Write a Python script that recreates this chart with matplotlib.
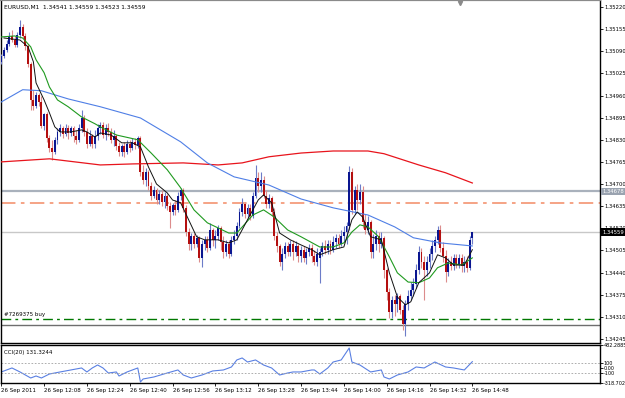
import matplotlib
matplotlib.use('Agg')
import matplotlib.pyplot as plt
import matplotlib.transforms as mtransforms

# EURUSD M1 bars, 26 Sep 2011 11:52 -> 14:48 (one bar per minute)
opens = [
    1.35059, 1.35076, 1.35094, 1.35112, 1.35135, 1.35123, 1.35109, 1.35138, 1.35162, 1.35135,
    1.35106, 1.35053, 1.34947, 1.34930, 1.34962, 1.34941, 1.34871, 1.34906, 1.34836, 1.34806,
    1.34794, 1.34830, 1.34853, 1.34865, 1.34847, 1.34865, 1.34850, 1.34865, 1.34841, 1.34830,
    1.34865, 1.34894, 1.34853, 1.34818, 1.34841, 1.34818, 1.34841, 1.34865, 1.34874, 1.34844,
    1.34865, 1.34853, 1.34830, 1.34841, 1.34812, 1.34794, 1.34812, 1.34794, 1.34818, 1.34806,
    1.34824, 1.34815, 1.34836, 1.34736, 1.34712, 1.34736, 1.34695, 1.34665, 1.34683, 1.34653,
    1.34671, 1.34648, 1.34665, 1.34636, 1.34618, 1.34639, 1.34624, 1.34665, 1.34683, 1.34630,
    1.34559, 1.34524, 1.34548, 1.34524, 1.34542, 1.34483, 1.34524, 1.34536, 1.34512, 1.34565,
    1.34536, 1.34548, 1.34571, 1.34530, 1.34501, 1.34524, 1.34495, 1.34536, 1.34548, 1.34577,
    1.34618, 1.34642, 1.34612, 1.34630, 1.34606, 1.34665, 1.34718, 1.34695, 1.34712, 1.34665,
    1.34642, 1.34659, 1.34618, 1.34548, 1.34518, 1.34471, 1.34495, 1.34518, 1.34501, 1.34524,
    1.34501, 1.34518, 1.34489, 1.34507, 1.34483, 1.34501, 1.34512, 1.34489, 1.34471, 1.34483,
    1.34501, 1.34518, 1.34507, 1.34524, 1.34507, 1.34530, 1.34542, 1.34524, 1.34548, 1.34559,
    1.34577, 1.34736, 1.34624, 1.34683, 1.34653, 1.34677, 1.34589, 1.34565, 1.34589, 1.34501,
    1.34524, 1.34548, 1.34524, 1.34542, 1.34448, 1.34383, 1.34324, 1.34360, 1.34348, 1.34371,
    1.34330, 1.34289, 1.34348, 1.34371, 1.34389, 1.34407, 1.34448, 1.34501, 1.34471, 1.34448,
    1.34471, 1.34495, 1.34518, 1.34536, 1.34565, 1.34512, 1.34489, 1.34442, 1.34471, 1.34459,
    1.34483, 1.34465, 1.34483, 1.34459, 1.34471, 1.34454, 1.34541]
highs = [
    1.35082, 1.35103, 1.35123, 1.35147, 1.35153, 1.35135, 1.35147, 1.35182, 1.35170, 1.35144,
    1.35112, 1.35059, 1.34977, 1.34971, 1.34968, 1.34959, 1.34909, 1.34912, 1.34844, 1.34830,
    1.34838, 1.34865, 1.34877, 1.34871, 1.34877, 1.34874, 1.34871, 1.34871, 1.34859, 1.34877,
    1.34918, 1.34903, 1.34865, 1.34859, 1.34847, 1.34859, 1.34877, 1.34883, 1.34883, 1.34877,
    1.34880, 1.34865, 1.34859, 1.34847, 1.34824, 1.34818, 1.34824, 1.34830, 1.34830, 1.34836,
    1.34836, 1.34841, 1.34841, 1.34756, 1.34747, 1.34742, 1.34706, 1.34695, 1.34689, 1.34683,
    1.34683, 1.34677, 1.34671, 1.34648, 1.34645, 1.34653, 1.34677, 1.34689, 1.34689, 1.34639,
    1.34571, 1.34556, 1.34556, 1.34551, 1.34548, 1.34536, 1.34548, 1.34548, 1.34586, 1.34571,
    1.34565, 1.34580, 1.34577, 1.34548, 1.34536, 1.34536, 1.34548, 1.34565, 1.34589, 1.34630,
    1.34659, 1.34648, 1.34642, 1.34642, 1.34677, 1.34756, 1.34736, 1.34736, 1.34724, 1.34683,
    1.34671, 1.34665, 1.34630, 1.34559, 1.34524, 1.34512, 1.34530, 1.34530, 1.34536, 1.34536,
    1.34533, 1.34524, 1.34518, 1.34518, 1.34512, 1.34524, 1.34524, 1.34507, 1.34512, 1.34512,
    1.34530, 1.34536, 1.34536, 1.34536, 1.34548, 1.34554, 1.34554, 1.34565, 1.34577, 1.34589,
    1.34753, 1.34747, 1.34695, 1.34700, 1.34700, 1.34695, 1.34612, 1.34606, 1.34595, 1.34554,
    1.34565, 1.34559, 1.34559, 1.34548, 1.34454, 1.34395, 1.34371, 1.34374, 1.34380, 1.34377,
    1.34345, 1.34360, 1.34389, 1.34412, 1.34424, 1.34465, 1.34518, 1.34512, 1.34489, 1.34489,
    1.34512, 1.34536, 1.34548, 1.34577, 1.34580, 1.34530, 1.34507, 1.34483, 1.34489, 1.34495,
    1.34495, 1.34495, 1.34495, 1.34489, 1.34489, 1.34548, 1.34559]
lows = [
    1.35053, 1.35071, 1.35088, 1.35106, 1.35118, 1.35103, 1.35103, 1.35129, 1.35129, 1.35094,
    1.35044, 1.34918, 1.34918, 1.34924, 1.34930, 1.34865, 1.34859, 1.34824, 1.34794, 1.34771,
    1.34789, 1.34818, 1.34841, 1.34836, 1.34841, 1.34833, 1.34841, 1.34824, 1.34818, 1.34824,
    1.34853, 1.34841, 1.34806, 1.34812, 1.34806, 1.34806, 1.34830, 1.34847, 1.34836, 1.34830,
    1.34841, 1.34821, 1.34812, 1.34800, 1.34783, 1.34783, 1.34780, 1.34789, 1.34794, 1.34800,
    1.34803, 1.34806, 1.34724, 1.34700, 1.34695, 1.34683, 1.34653, 1.34659, 1.34642, 1.34642,
    1.34636, 1.34630, 1.34624, 1.34571, 1.34609, 1.34609, 1.34618, 1.34653, 1.34618, 1.34548,
    1.34507, 1.34507, 1.34512, 1.34515, 1.34471, 1.34457, 1.34507, 1.34501, 1.34507, 1.34518,
    1.34512, 1.34536, 1.34507, 1.34483, 1.34489, 1.34483, 1.34489, 1.34524, 1.34536, 1.34571,
    1.34606, 1.34601, 1.34601, 1.34595, 1.34601, 1.34659, 1.34677, 1.34677, 1.34659, 1.34630,
    1.34630, 1.34606, 1.34536, 1.34501, 1.34459, 1.34448, 1.34483, 1.34489, 1.34489, 1.34477,
    1.34489, 1.34471, 1.34471, 1.34471, 1.34465, 1.34489, 1.34471, 1.34462, 1.34459, 1.34410,
    1.34489, 1.34495, 1.34495, 1.34495, 1.34501, 1.34512, 1.34512, 1.34518, 1.34530, 1.34524,
    1.34565, 1.34612, 1.34612, 1.34624, 1.34642, 1.34571, 1.34554, 1.34554, 1.34483, 1.34483,
    1.34507, 1.34501, 1.34512, 1.34424, 1.34360, 1.34307, 1.34307, 1.34313, 1.34324, 1.34318,
    1.34271, 1.34254, 1.34330, 1.34360, 1.34371, 1.34395, 1.34436, 1.34454, 1.34360, 1.34430,
    1.34454, 1.34477, 1.34501, 1.34524, 1.34501, 1.34471, 1.34412, 1.34430, 1.34448, 1.34448,
    1.34454, 1.34454, 1.34442, 1.34442, 1.34442, 1.34448, 1.34523]
closes = [
    1.35076, 1.35094, 1.35112, 1.35135, 1.35123, 1.35109, 1.35138, 1.35162, 1.35135, 1.35106,
    1.35053, 1.34947, 1.34930, 1.34962, 1.34941, 1.34871, 1.34906, 1.34836, 1.34806, 1.34794,
    1.34830, 1.34853, 1.34865, 1.34847, 1.34865, 1.34850, 1.34865, 1.34841, 1.34830, 1.34865,
    1.34894, 1.34853, 1.34818, 1.34841, 1.34818, 1.34841, 1.34865, 1.34874, 1.34844, 1.34865,
    1.34853, 1.34830, 1.34841, 1.34812, 1.34794, 1.34812, 1.34794, 1.34818, 1.34806, 1.34824,
    1.34815, 1.34836, 1.34736, 1.34712, 1.34736, 1.34695, 1.34665, 1.34683, 1.34653, 1.34671,
    1.34648, 1.34665, 1.34636, 1.34618, 1.34639, 1.34624, 1.34665, 1.34683, 1.34630, 1.34559,
    1.34524, 1.34548, 1.34524, 1.34542, 1.34483, 1.34524, 1.34536, 1.34512, 1.34565, 1.34536,
    1.34548, 1.34571, 1.34530, 1.34501, 1.34524, 1.34495, 1.34536, 1.34548, 1.34577, 1.34618,
    1.34642, 1.34612, 1.34630, 1.34606, 1.34665, 1.34718, 1.34695, 1.34712, 1.34665, 1.34642,
    1.34659, 1.34618, 1.34548, 1.34518, 1.34471, 1.34495, 1.34518, 1.34501, 1.34524, 1.34501,
    1.34518, 1.34489, 1.34507, 1.34483, 1.34501, 1.34512, 1.34489, 1.34471, 1.34495, 1.34501,
    1.34518, 1.34507, 1.34524, 1.34507, 1.34530, 1.34542, 1.34524, 1.34548, 1.34559, 1.34577,
    1.34736, 1.34624, 1.34683, 1.34653, 1.34677, 1.34589, 1.34565, 1.34589, 1.34501, 1.34524,
    1.34548, 1.34524, 1.34542, 1.34448, 1.34383, 1.34324, 1.34360, 1.34348, 1.34371, 1.34330,
    1.34289, 1.34348, 1.34371, 1.34389, 1.34407, 1.34448, 1.34501, 1.34471, 1.34448, 1.34471,
    1.34495, 1.34518, 1.34536, 1.34565, 1.34512, 1.34489, 1.34442, 1.34471, 1.34459, 1.34483,
    1.34465, 1.34483, 1.34459, 1.34471, 1.34454, 1.34536, 1.34559]

# moving averages, sampled along the bars (bar index, price)
ma_fast_bars = [1, 7, 10, 12, 13, 16, 18, 20, 22, 26, 30, 32, 35, 37, 41, 45, 49, 52, 55, 58,
                62, 64, 67, 70, 73, 76, 81, 85, 88, 92, 96, 98, 101, 104, 108, 112, 116, 119,
                124, 128, 131, 133, 135, 138, 142, 145, 148, 151, 153, 156, 160, 163, 166,
                169, 173, 176]
ma_fast = [1.35129, 1.35123, 1.35103, 1.35059, 1.34997, 1.34947, 1.34909, 1.34868, 1.34853,
           1.34853, 1.34859, 1.34853, 1.34838, 1.34850, 1.34844, 1.34821, 1.34821, 1.34809,
           1.34750, 1.34700, 1.34674, 1.34653, 1.34645, 1.34595, 1.34545, 1.34536, 1.34536,
           1.34527, 1.34536, 1.34595, 1.34653, 1.34668, 1.34645, 1.34556, 1.34536, 1.34521,
           1.34507, 1.34492, 1.34507, 1.34515, 1.34595, 1.34618, 1.34603, 1.34545, 1.34536,
           1.34439, 1.34368, 1.34345, 1.34354, 1.34410, 1.34439, 1.34492, 1.34483, 1.34462,
           1.34462, 1.34507]
ma_green_bars = [0, 5, 8, 11, 13, 16, 18, 21, 25, 30, 35, 37, 43, 51, 56, 62, 67, 72, 77, 85,
                 88, 94, 98, 102, 107, 112, 119, 124, 128, 131, 134, 137, 141, 145, 148, 152,
                 156, 160, 163, 167, 172, 176]
ma_green = [1.35132, 1.35135, 1.35129, 1.35103, 1.35065, 1.35027, 1.34985, 1.34947, 1.34927,
            1.34897, 1.34877, 1.34868, 1.34844, 1.34830, 1.34791, 1.34742, 1.34689, 1.34624,
            1.34586, 1.34556, 1.34556, 1.34609, 1.34624, 1.34603, 1.34565, 1.34545, 1.34515,
            1.34515, 1.34527, 1.34559, 1.34580, 1.34574, 1.34545, 1.34486, 1.34439, 1.34412,
            1.34410, 1.34424, 1.34454, 1.34468, 1.34462, 1.34483]
ma_blue_bars = [0, 8, 15, 25, 37, 52, 67, 77, 87, 100, 112, 124, 137, 147, 154, 164, 176]
ma_blue = [1.34941, 1.34977, 1.34974, 1.34950, 1.34927, 1.34894, 1.34824, 1.34762, 1.34721,
           1.34697, 1.34656, 1.34630, 1.34609, 1.34574, 1.34542, 1.34527, 1.34518]
ma_red_bars = [0, 18, 37, 49, 68, 81, 90, 100, 112, 124, 137, 143, 156, 166, 176]
ma_red = [1.34765, 1.34774, 1.34756, 1.34759, 1.34762, 1.34756, 1.34762, 1.34780, 1.34791,
          1.34797, 1.34797, 1.34789, 1.34756, 1.34733, 1.34703]

# CCI(20), sampled (bar index, value)
cci_bars = [0, 4, 7, 11, 13, 15, 18, 22, 26, 30, 32, 34, 36, 38, 40, 43, 44, 47, 51, 52, 53,
            57, 62, 66, 68, 71, 75, 79, 83, 86, 88, 90, 92, 95, 98, 101, 104, 107, 109, 112,
            116, 117, 119, 122, 124, 127, 130, 131, 134, 138, 142, 143, 145, 148, 152, 155,
            158, 162, 166, 169, 173, 176]
cci_vals = [-86, -2, -86, -213, -171, -213, -129, -86, -44, -2, -86, -2, 61, -2, -108, -86,
            -171, -86, -2, -297, -234, -192, -108, -44, -150, -213, -150, -65, -44, 19, 167,
            209, 124, 167, 61, -2, -150, -108, -86, -86, -44, -44, -129, -2, 124, 167, 419,
            124, 61, -86, -44, -192, -234, -150, -86, 19, -2, 124, 19, -2, -44, 131.3244]
cci_min, cci_max = -318.702, 482.2885

# horizontal levels on the price chart
level_grey = 1.34678
level_salmon = 1.34645
order_price = 1.34302
order_label = "#7269375 buy"
level_dark = 1.34286
bid = closes[-1]

price_ticks = [1.35220, 1.35155, 1.35090, 1.35025, 1.34960, 1.34895, 1.34830, 1.34765,
               1.34700, 1.34635, 1.34570, 1.34505, 1.34440, 1.34375, 1.34310, 1.34245]
time_labels = ["26 Sep 2011", "26 Sep 12:08", "26 Sep 12:24", "26 Sep 12:40", "26 Sep 12:56",
               "26 Sep 13:12", "26 Sep 13:28", "26 Sep 13:44", "26 Sep 14:00", "26 Sep 14:16",
               "26 Sep 14:32", "26 Sep 14:48"]

plt.rcParams['font.family'] = ['DejaVu Sans']
W, H = 625, 398
fig = plt.figure(figsize=(W / 100, H / 100), dpi=100)
fig.patch.set_facecolor('white')

ax = fig.add_axes([1 / W, 1 - 343 / H, 599 / W, 343 / H])
axc = fig.add_axes([1 / W, 1 - 383 / H, 599 / W, 38 / H])

xs = list(range(len(closes)))
bull_body, bear_body = '#0a1690', '#b40f0f'
bull_wick, bear_wick = '#6c7cc8', '#dc8c8c'
body_cols, wick_cols, bottoms, heights = [], [], [], []
for o, c in zip(opens, closes):
    up = c >= o
    body_cols.append(bull_body if up else bear_body)
    wick_cols.append(bull_wick if up else bear_wick)
    bottoms.append(min(o, c))
    heights.append(max(abs(c - o), 0.000015))

ax.vlines(xs, lows, highs, colors=wick_cols, linewidth=0.8, zorder=3)
ax.bar(xs, heights, bottom=bottoms, width=0.72, color=body_cols, linewidth=0, zorder=4)

ax.plot(ma_red_bars, ma_red, color='#e8141c', lw=0.9, zorder=5)
ax.plot(ma_blue_bars, ma_blue, color='#4f7fe6', lw=0.8, zorder=5)
ax.plot(ma_green_bars, ma_green, color='#1f9a1f', lw=0.8, zorder=5)
ax.plot(ma_fast_bars, ma_fast, color='#111111', lw=0.7, zorder=6)

ax.axhline(level_grey, color='#a9b1bc', lw=1.6, zorder=2)
ax.axhline(level_salmon, color='#f59c7c', lw=1.3, ls=(0, (8, 3, 2, 3)), zorder=2)
ax.axhline(bid, color='#c8c8c8', lw=1.0, zorder=2)
ax.axhline(order_price, color='#007800', lw=1.0, ls=(0, (7, 3, 2, 3)), zorder=2)
ax.axhline(level_dark, color='#6e6e6e', lw=1.0, zorder=2)

ax.set_xlim(-0.1, 223.7)
ax.set_ylim(1.342329, 1.352406)
ax.set_xticks([])
ax.yaxis.tick_right()
ax.set_yticks(price_ticks)
ax.set_yticklabels(['%.5f' % p for p in price_ticks])
ax.tick_params(axis='y', length=2, width=0.6, pad=1, labelsize=3.8, colors='black')
for s in ['left', 'right', 'bottom']:
    ax.spines[s].set_color('black')
    ax.spines[s].set_linewidth(1.0)
ax.spines['top'].set_color('#8a8a8a')
ax.spines['top'].set_linewidth(1.6)
ax.plot([0.767], [0.992], marker='v', ms=3, color='#8a8a8a', transform=ax.transAxes,
        clip_on=False, zorder=7)

trans = mtransforms.blended_transform_factory(ax.transAxes, ax.transData)
ax.text(1.004, level_grey, '%.5f' % level_grey, transform=trans, fontsize=3.8, color='white',
        va='center', ha='left', zorder=8,
        bbox=dict(boxstyle='square,pad=0.25', fc='#9aa3b0', ec='none'))
ax.text(1.004, bid, '%.5f' % bid, transform=trans, fontsize=3.8, color='white',
        va='center', ha='left', zorder=8,
        bbox=dict(boxstyle='square,pad=0.25', fc='black', ec='none'))
ax.text(0.005, order_price + 0.00006, order_label, transform=trans, fontsize=4,
        va='bottom', ha='left', color='black')
ax.text(0.005, 0.985, 'EURUSD,M1  %.5f %.5f %.5f %.5f' % (opens[-1], highs[-1], lows[-1], closes[-1]),
        transform=ax.transAxes, fontsize=4.2, va='top', ha='left', color='black')

# CCI panel
axc.plot(cci_bars, cci_vals, color='#5a80e2', lw=0.8)
axc.axhline(100, color='#a0a0a0', lw=0.6, ls=(0, (2, 2)))
axc.axhline(-100, color='#a0a0a0', lw=0.6, ls=(0, (2, 2)))
axc.set_xlim(-0.1, 223.7)
axc.set_ylim(cci_min, cci_max)
axc.yaxis.tick_right()
axc.set_yticks([cci_min, -100, 0, 100, cci_max])
axc.set_yticklabels(['%.3f' % cci_min, '-100', '0.00', '100', '%.4f' % cci_max])
axc.tick_params(axis='y', length=2, width=0.6, pad=0.8, labelsize=3.5)
axc.set_xticks(list(range(0, len(closes), 16)))
axc.set_xticklabels(time_labels, ha='left')
axc.tick_params(axis='x', length=2, width=0.6, pad=1.5, labelsize=4)
for s in axc.spines.values():
    s.set_color('black')
    s.set_linewidth(1.0)
axc.text(0.005, 0.8, 'CCI(20) %.4f' % cci_vals[-1], transform=axc.transAxes, fontsize=4,
         va='center', ha='left')

fig.savefig('out.png', dpi=100, facecolor=fig.get_facecolor())
